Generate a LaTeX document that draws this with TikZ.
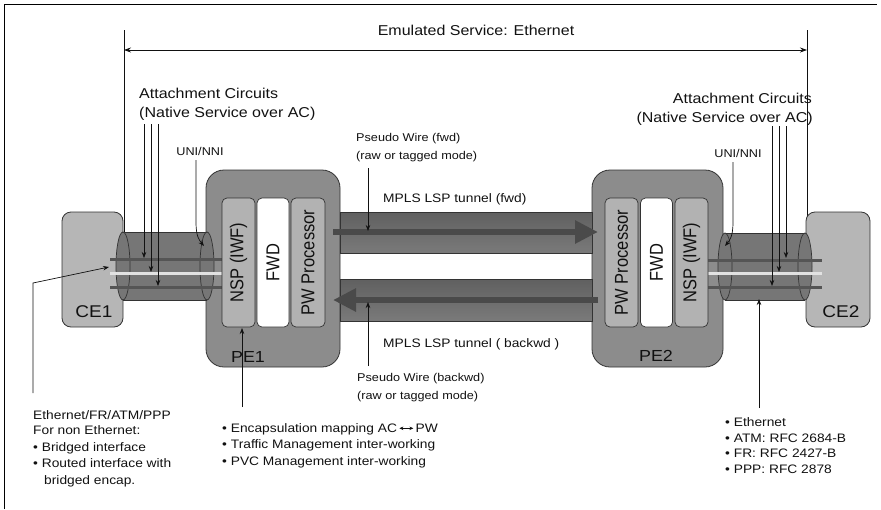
\documentclass[tikz,border=0pt]{standalone}
\usepackage{fontspec}
\usepackage{graphicx}
\setmainfont{Liberation Sans}[FakeStretch=1.12]
\newfontfamily\rotfont{Liberation Sans}
\usetikzlibrary{arrows.meta,calc}
\definecolor{ceGray}{HTML}{B6B6B6}
\definecolor{peGray}{HTML}{8C8C8C}
\definecolor{inGray}{HTML}{B2B2B2}
\definecolor{tubeGray}{HTML}{767676}
\definecolor{lineDark}{HTML}{555555}
\definecolor{lineLight}{HTML}{E2E2E2}
\definecolor{edgeC}{HTML}{333333}
\definecolor{lspC}{HTML}{4A4A4A}
\definecolor{tunTop}{HTML}{606060}
\definecolor{tunMid}{HTML}{ADADAD}
\definecolor{tunBot}{HTML}{7A7A7A}
\definecolor{txtC}{HTML}{111111}
\tikzset{
  thinarr/.style={draw=txtC, line width=0.7pt, -{Stealth[length=6pt,width=4.5pt]}},
  dimline/.style={draw=txtC, line width=0.7pt},
  txtS/.style={inner sep=0pt, font=\fontsize{11.3}{13}\selectfont, text=txtC},
  txtB/.style={inner sep=0pt, font=\fontsize{12.3}{15}\selectfont, text=txtC},
  txtL/.style={inner sep=0pt, font=\fontsize{14.3}{17}\selectfont, text=txtC},
  devbox/.style={draw=edgeC, line width=0.8pt, rounded corners=9pt, fill=ceGray},
  pebox/.style={draw=edgeC, line width=0.8pt, rounded corners=18pt, fill=peGray},
  inbox/.style={draw=edgeC, line width=0.7pt, rounded corners=5pt, fill=inGray},
  fwdbox/.style={inbox, fill=white},
  rotlbl/.style={rotate=90, inner sep=0pt, font=\rotfont\fontsize{16.5}{18}\selectfont, text=txtC},
  devlbl/.style={inner sep=0pt, font=\fontsize{17}{19}\selectfont, text=txtC},
  acdark/.style={line width=3pt, draw=lineDark},
  aclight/.style={line width=3pt, draw=lineLight},
  tubebody/.style={fill=tubeGray},
  tubeedge/.style={draw=edgeC, line width=0.7pt},
  tunnel/.style={draw=edgeC, line width=0.6pt, top color=tunTop, middle color=tunMid, bottom color=tunBot},
  lsp/.style={draw=lspC, line width=6pt, -{Triangle[length=23pt,width=22pt]}},
}
\begin{document}
\begin{tikzpicture}[x=1pt,y=-1pt]
\useasboundingbox (0,0) rectangle (881,509);
% frame
\draw[line width=0.9pt, black] (4,509) -- (4,4) -- (877,4);

% title and dimension line
\node[txtL, anchor=base] (title) at (476,35) {Emulated Service: Ethernet};
\coordinate (vLtop) at (124,30); \coordinate (vLbot) at (124,232);
\coordinate (vRtop) at (807,30); \coordinate (vRbot) at (807,232);
\coordinate (dimL) at (124,50); \coordinate (dimR) at (807,50);
\draw[dimline] (vLtop) -- (vLbot);
\draw[dimline] (vRtop) -- (vRbot);
\draw[dimline, {Stealth[length=7pt,width=5pt]}-{Stealth[length=7pt,width=5pt]}] (dimL) -- (dimR);

% CE boxes
\node[devbox, minimum width=61pt, minimum height=115pt] (CE1) at (92.5,269.5) {};
\node[devbox, minimum width=64pt, minimum height=115pt] (CE2) at (838,269.5) {};
\node[devlbl, anchor=base] (CE1l) at (94,317) {CE1};
\node[devlbl, anchor=base] (CE2l) at (841,317) {CE2};

% PE boxes
\node[pebox, minimum width=134pt, minimum height=197pt] (PE1) at (273,268.5) {};
\node[pebox, minimum width=131pt, minimum height=197pt] (PE2) at (657.5,268.5) {};
\node[devlbl, font=\fontsize{16}{18}\selectfont, anchor=base] (PE1l) at (248,362) {PE1};
\node[devlbl, font=\fontsize{16}{18}\selectfont, anchor=base] (PE2l) at (656,361) {PE2};

% left tube
\fill[tubebody] (123,232) rectangle (207,300);
\draw[tubeedge] (123,232) -- (207,232) (123,300) -- (207,300);
\filldraw[fill=tubeGray, draw=edgeC, line width=0.7pt] (123,266) ellipse [x radius=7, y radius=34];
\filldraw[fill=tubeGray, draw=edgeC, line width=0.7pt] (207,266) ellipse [x radius=7, y radius=34];
\draw[acdark] (110,259) -- (222,259);
\draw[aclight] (110,273) -- (222,273);
\draw[acdark] (110,287) -- (222,287);

% right tube
\fill[tubebody] (725,233) rectangle (805,300);
\draw[tubeedge] (725,233) -- (805,233) (725,300) -- (805,300);
\filldraw[fill=tubeGray, draw=edgeC, line width=0.7pt] (725,266.5) ellipse [x radius=7, y radius=33.5];
\filldraw[fill=tubeGray, draw=edgeC, line width=0.7pt] (805,266.5) ellipse [x radius=7, y radius=33.5];
\draw[acdark] (708,260) -- (822,260);
\draw[aclight] (708,273) -- (822,273);
\draw[acdark] (708,287) -- (822,287);

% inner boxes PE1
\node[inbox, minimum width=33pt, minimum height=129pt] (NSP1) at (238.5,262.5) {};
\node[fwdbox, minimum width=32pt, minimum height=129pt] (FWD1) at (273,262.5) {};
\node[inbox, minimum width=34pt, minimum height=129pt] (PWP1) at (308,262.5) {};
\node[rotlbl] (NSP1l) at (NSP1.center) {\scalebox{1}[1.13]{NSP (IWF)}};
\node[rotlbl] (FWD1l) at (FWD1.center) {\scalebox{1}[1.13]{FWD}};
\node[rotlbl] (PWP1l) at (PWP1.center) {\scalebox{1}[1.13]{PW Processor}};

% inner boxes PE2
\node[inbox, minimum width=33pt, minimum height=129pt] (PWP2) at (621.5,262.5) {};
\node[fwdbox, minimum width=32pt, minimum height=129pt] (FWD2) at (656.5,262.5) {};
\node[inbox, minimum width=33pt, minimum height=129pt] (NSP2) at (691.5,262.5) {};
\node[rotlbl] (PWP2l) at (PWP2.center) {\scalebox{1}[1.13]{PW Processor}};
\node[rotlbl] (FWD2l) at (FWD2.center) {\scalebox{1}[1.13]{FWD}};
\node[rotlbl] (NSP2l) at (NSP2.center) {\scalebox{1}[1.13]{NSP (IWF)}};

% tunnels
\path[tunnel] (340,212) rectangle (592,253);
\path[tunnel] (340,279) rectangle (592,321);
\coordinate (fwdS) at (333,232); \coordinate (fwdE) at (598,232);
\coordinate (bwdS) at (598,300); \coordinate (bwdE) at (333,300);
\draw[lsp] (fwdS) -- (fwdE);
\draw[lsp] (bwdS) -- (bwdE);

% attachment circuit labels
\node[txtL, anchor=base west] (acL1) at (139,98) {Attachment Circuits};
\node[txtL, anchor=base west] (acL2) at (139,117) {(Native Service over AC)};
\node[txtL, anchor=base east] (acR1) at (812,103) {Attachment Circuits};
\node[txtL, anchor=base east] (acR2) at (813,122) {(Native Service over AC)};
\coordinate (aL1s) at (144,124); \coordinate (aL1e) at (144,258);
\coordinate (aL2s) at (151,124); \coordinate (aL2e) at (151,272);
\coordinate (aL3s) at (158,124); \coordinate (aL3e) at (158,286);
\draw[thinarr] (aL1s) -- (aL1e);
\draw[thinarr] (aL2s) -- (aL2e);
\draw[thinarr] (aL3s) -- (aL3e);
\coordinate (aR1s) at (772,126); \coordinate (aR1e) at (772,286);
\coordinate (aR2s) at (779,126); \coordinate (aR2e) at (779,272);
\coordinate (aR3s) at (786,126); \coordinate (aR3e) at (786,258);
\draw[thinarr] (aR1s) -- (aR1e);
\draw[thinarr] (aR2s) -- (aR2e);
\draw[thinarr] (aR3s) -- (aR3e);

% UNI/NNI
\node[txtS, anchor=base] (uniL) at (200,155) {UNI/NNI};
\node[txtS, anchor=base] (uniR) at (738,157) {UNI/NNI};
\coordinate (uLa) at (196,160); \coordinate (uLb) at (196,222); \coordinate (uLe) at (204,246);
\draw[thinarr] (uLa) -- (uLb) .. controls (196,236) and (199,240) .. (uLe);
\coordinate (uRa) at (733,162); \coordinate (uRb) at (733,222); \coordinate (uRe) at (725,246);
\draw[thinarr] (uRa) -- (uRb) .. controls (733,236) and (730,240) .. (uRe);

% pseudo wire / MPLS labels
\node[txtS, anchor=base west] (pwf1) at (356,141) {Pseudo Wire (fwd)};
\node[txtS, anchor=base west] (pwf2) at (356,159) {(raw or tagged mode)};
\coordinate (pwfS) at (368,168); \coordinate (pwfE) at (368,231);
\draw[thinarr] (pwfS) -- (pwfE);
\node[txtB, anchor=base west] (mplsF) at (383,202) {MPLS LSP tunnel (fwd)};
\node[txtB, anchor=base west] (mplsB) at (383,347) {MPLS LSP tunnel ( backwd )};
\node[txtS, anchor=base west] (pwb1) at (357,381) {Pseudo Wire (backwd)};
\node[txtS, anchor=base west] (pwb2) at (357,399) {(raw or tagged mode)};
\coordinate (pwbS) at (368,366); \coordinate (pwbE) at (368,302);
\draw[thinarr] (pwbS) -- (pwbE);

% bottom left
\coordinate (blA) at (33,393); \coordinate (blB) at (33,283); \coordinate (blE) at (109,267);
\draw[thinarr] (blA) -- (blB) -- (blE);
\node[txtB, anchor=base west] (bl1) at (33,419) {Ethernet/FR/ATM/PPP};
\node[txtB, anchor=base west] (bl2) at (33,434) {For non Ethernet:};
\node[txtB, anchor=base west] (bl3) at (33,451) {\textbullet\ Bridged interface};
\node[txtB, anchor=base west] (bl4) at (33,467) {\textbullet\ Routed interface with};
\node[txtB, anchor=base west] (bl5) at (44,484) {bridged encap.};

% bottom center
\coordinate (bcA) at (242,407); \coordinate (bcE) at (242,328);
\draw[thinarr] (bcA) -- (bcE);
\node[txtB, anchor=base west] (bc1) at (222,432) {\textbullet\ Encapsulation mapping AC\,\raisebox{0.3ex}{\tikz[x=1pt,y=1pt]\draw[line width=0.6pt,{Stealth[length=4pt,width=3.5pt]}-{Stealth[length=4pt,width=3.5pt]}] (0,0) -- (14,0);}\,PW};
\node[txtB, anchor=base west] (bc2) at (222,448) {\textbullet\ Traffic Management inter-working};
\node[txtB, anchor=base west] (bc3) at (222,465) {\textbullet\ PVC Management inter-working};

% bottom right
\coordinate (brA) at (759,408); \coordinate (brE) at (759,299);
\draw[thinarr] (brA) -- (brE);
\node[txtB, anchor=base west] (br1) at (725,426) {\textbullet\ Ethernet};
\node[txtB, anchor=base west] (br2) at (725,442) {\textbullet\ ATM: RFC 2684-B};
\node[txtB, anchor=base west] (br3) at (725,457) {\textbullet\ FR: RFC 2427-B};
\node[txtB, anchor=base west] (br4) at (725,473) {\textbullet\ PPP: RFC 2878};
\end{tikzpicture}
\end{document}
